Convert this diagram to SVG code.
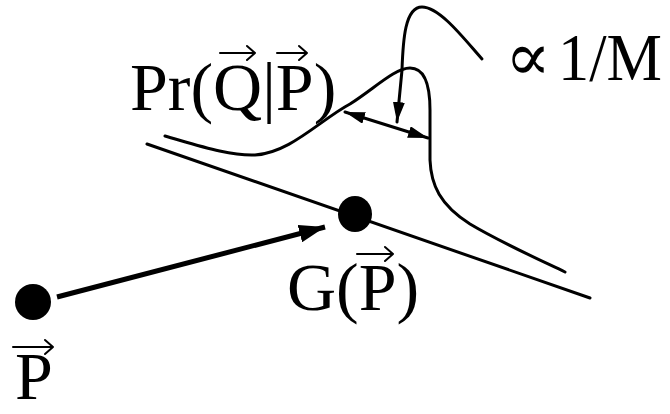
<svg xmlns="http://www.w3.org/2000/svg" width="670" height="414" viewBox="0 0 670 414">
<style>
.t{font-family:"Liberation Serif","Times New Roman",Tinos,serif;font-size:68px;fill:#000}
.ln{fill:none;stroke:#000;stroke-width:3;stroke-linecap:round;stroke-linejoin:round}
.vec{fill:none;stroke:#000;stroke-width:2;stroke-linecap:round;stroke-linejoin:round}
.dot{fill:#000}
</style>
<defs>
<marker id="big" markerUnits="userSpaceOnUse" viewBox="0 0 26 18" refX="26" refY="9" markerWidth="26" markerHeight="18" orient="auto">
<path d="M0,0 L26,9 L0,18 Z" fill="#000"/>
</marker>
<marker id="sm" markerUnits="userSpaceOnUse" viewBox="0 0 20 12" refX="20" refY="6" markerWidth="20" markerHeight="12" orient="auto-start-reverse">
<path d="M0,0 L20,6 L0,12 Z" fill="#000"/>
</marker>
</defs>
<g id="baseline-line">
<path class="ln" d="M147,144 L590,298"/>
</g>
<g id="distribution">
<path class="ln" d="M165,136 C200,146 230,156 255,155 C290,153 320,120 350,104 C375,88 395,68 410,68 C425,68 430,85 430,110 L430,160 C431,185 440,205 470,224 C500,242 540,260 565,272"/>
<text class="t" x="130" y="110">Pr(Q|P)</text>
<path class="vec" d="M220,53 H255 M247,46 L255,53 L247,60"/>
<path class="vec" d="M277,53 H307 M299,46 L307,53 L299,60"/>
</g>
<g id="width-label">
<text class="t" font-size="64" y="80"><tspan x="505" font-family="'Liberation Serif','DejaVu Serif',serif">∝</tspan><tspan x="558" textLength="104" lengthAdjust="spacingAndGlyphs">1/M</tspan></text>
</g>
<g id="node-P">
<ellipse class="dot" cx="33" cy="302" rx="18" ry="18"/>
<text class="t" font-size="66" x="15" y="399">P</text>
<path class="vec" d="M13,347 H53 M45,340 L53,347 L45,354"/>
</g>
<g id="node-G">
<ellipse class="dot" cx="355" cy="214" rx="17" ry="18"/>
<text class="t" x="287" y="310">G(P)</text>
<path class="vec" d="M357,254 H393 M385,247 L393,254 L385,261"/>
</g>
<g id="connectors">
<path d="M57,297 L325,227" fill="none" stroke="#000" stroke-width="5" marker-end="url(#big)"/>
<path class="ln" d="M345,112 L428,138" marker-start="url(#sm)" marker-end="url(#sm)"/>
<path class="ln" d="M482,59 C465,40 440,7 422,7 C405,7 403,40 402,70 L397,122" marker-end="url(#sm)"/>
</g>
</svg>
